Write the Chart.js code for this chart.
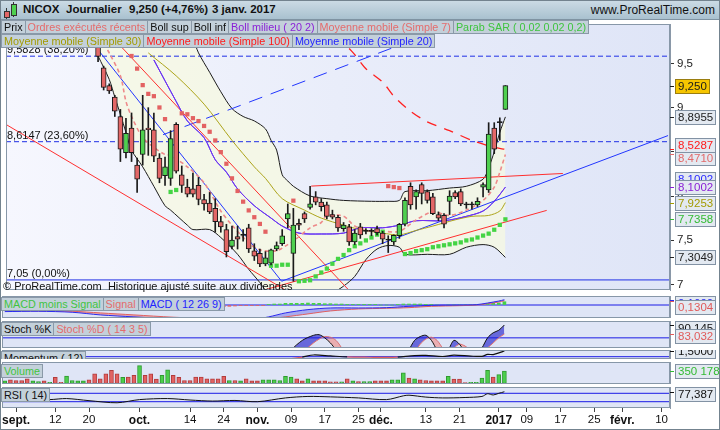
<!DOCTYPE html>
<html lang="fr">
<head>
<meta charset="utf-8">
<title>NICOX – Journalier</title>
<script src="https://cdn.jsdelivr.net/npm/chart.js@4.4.1/dist/chart.umd.min.js"></script>
<style>
  html,body{margin:0;padding:0;}
  body{width:720px;height:430px;position:relative;overflow:hidden;background:#fff;font-family:"Liberation Sans",Arial,sans-serif;}
  canvas.pane{position:absolute;left:2px;}
  .frame{position:absolute;left:0;top:0;width:718px;height:428px;border:1px solid #73838f;pointer-events:none;z-index:9}
  .titlebar{position:absolute;left:0;top:0;width:720px;height:19px;background:linear-gradient(#cddce6,#a9c1cf);border-bottom:1px solid #7f93a2;z-index:6}
  .titlebar span{position:absolute;top:3px;font-size:11.5px;font-weight:bold;color:#111;white-space:nowrap}
  .titlebar span.site{font-weight:normal;font-size:12px;left:auto;right:5px}
  .ico{position:absolute;border:1px solid #333}
  .ico.w{border:none;background:#333;width:1px}
  .legrow{position:absolute;left:1px;display:flex;z-index:7}
  .legrow span{font-size:10.8px;line-height:12px;height:12px;padding:0 2px;background:#c3d0da;border:1px solid #8a99a8;margin-right:-1px;white-space:nowrap}
  .clip{position:absolute;left:0;overflow:hidden;width:300px;z-index:7}
  .clip .legrow{top:0}
  .note{position:absolute;font-size:11px;color:#111;white-space:nowrap;z-index:5}
</style>
</head>
<body>
<div class="titlebar">
  <div class="ico w" style="left:6px;top:8px;height:11px"></div>
  <div class="ico" style="left:4px;top:11px;width:4px;height:5px;background:#e36767"></div>
  <div class="ico w" style="left:13px;top:2px;height:15px"></div>
  <div class="ico" style="left:11px;top:4px;width:4px;height:10px;background:#4fd04f"></div>
  <span id="tSym" style="left:23px"></span>
  <span id="tFreq" style="left:66px"></span>
  <span id="tLast" style="left:129px"></span>
  <span id="tDate" style="left:212px"></span>
  <span class="site">www.ProRealTime.com</span>
</div>

<canvas id="cMain" class="pane" width="718" height="274" style="top:20px"></canvas>
<canvas id="cMacd" class="pane" width="718" height="22" style="top:296px"></canvas>
<canvas id="cStoch" class="pane" width="718" height="27" style="top:321px"></canvas>
<canvas id="cMom" class="pane" width="718" height="9" style="top:350px"></canvas>
<canvas id="cVol" class="pane" width="718" height="22" style="top:362px"></canvas>
<canvas id="cRsi" class="pane" width="718" height="43" style="top:387px"></canvas>

<div class="legrow" style="top:20px">
  <span style="color:#111">Prix</span><span style="color:#e46c6c">Ordres exécutés récents</span><span style="color:#111">Boll sup</span><span style="color:#111">Boll inf</span><span style="color:#8a1fd6">Boll milieu ( 20 2)</span><span style="color:#e46c6c">Moyenne mobile (Simple 7)</span><span style="color:#3fc43f">Parab SAR ( 0,02 0,02 0,2)</span>
</div>
<div class="legrow" style="top:34px">
  <span style="color:#a39b00">Moyenne mobile (Simple 30)</span><span style="color:#ff1a1a">Moyenne mobile (Simple 100)</span><span style="color:#2323ff">Moyenne mobile (Simple 20)</span>
</div>
<div class="note" style="left:3px;top:280px">© ProRealTime.com&nbsp; Historique ajusté suite aux dividendes</div>

<div class="legrow" style="top:297px">
  <span style="color:#3fc43f">MACD moins Signal</span><span style="color:#e46c6c">Signal</span><span style="color:#2323ff">MACD ( 12 26 9)</span>
</div>
<div class="legrow" style="top:322px">
  <span style="color:#111">Stoch %K</span><span style="color:#e46c6c">Stoch %D ( 14 3 5)</span>
</div>
<div class="clip" style="top:351px;height:8px">
  <div class="legrow"><span style="color:#111">Momentum ( 12)</span></div>
</div>
<div class="legrow" style="top:364px">
  <span style="color:#3fc43f">Volume</span>
</div>
<div class="legrow" style="top:388px">
  <span style="color:#111">RSI ( 14)</span>
</div>
<div class="frame"></div>

<script>
// ---------- trading calendar (Euronext Paris sessions) ----------
const firstSession = '2016-08-30';
const sessionCount = 119;
const closedDays = ['2016-12-26'];

// x-axis marks: session date, label, month flag
const axisMarks = [
  ['2016-09-01', 'sept.', true], ['2016-09-12', '12'], ['2016-09-20', '20'],
  ['2016-10-03', 'oct.', true], ['2016-10-14', '14'], ['2016-10-24', '24'],
  ['2016-11-01', 'nov.', true], ['2016-11-09', '09'], ['2016-11-17', '17'], ['2016-11-25', '25'],
  ['2016-12-01', 'déc.', true], ['2016-12-13', '13'], ['2016-12-21', '21'],
  ['2017-01-02', '2017', true], ['2017-01-09', '09'], ['2017-01-17', '17'], ['2017-01-25', '25'],
  ['2017-02-01', 'févr.', true], ['2017-02-10', '10']
];

// ---------- daily prices, one entry per session ----------
const opens = [10.95,11.05,10.85,10.70,10.55,10.30,10.45,10.55,10.40,10.45,
  10.15,10.10,10.40,10.45,10.50,10.50,9.95,9.45,9.25,9.12,
  8.90,8.49,8.77,8.35,8.47,8.77,8.75,8.43,8.23,8.20,
  8.81,8.24,8.10,8.08,8.12,7.96,7.92,7.86,7.71,7.62,
  7.43,7.54,7.555,7.64,7.38,7.35,7.23,7.24,7.40,7.46,
  7.74,7.35,7.69,7.80,7.87,7.99,7.93,7.90,7.79,7.76,
  7.63,7.65,7.48,7.65,7.60,7.60,7.63,7.58,7.50,7.48,
  7.55,7.68,8.11,7.99,8.13,8.05,7.99,7.79,7.78,7.94,
  8.04,8.05,7.90,7.90,7.90,8.10,8.07,8.77,8.83,8.98];
const highs = [11.10,11.10,10.90,10.75,10.60,10.50,10.60,10.58,10.52,10.48,
  10.20,10.45,10.50,10.55,10.60,10.52,10.00,9.47,9.27,9.14,
  8.98,8.88,8.94,8.43,9.14,9.00,8.94,8.48,8.44,8.74,
  8.83,8.34,8.19,8.26,8.21,8.02,8.04,7.97,7.77,7.68,
  7.66,7.66,7.62,7.68,7.46,7.40,7.37,7.40,7.48,7.62,
  7.91,7.86,7.74,7.82,8.11,8.05,7.97,7.93,7.84,7.78,
  7.70,7.68,7.62,7.69,7.63,7.63,7.66,7.60,7.55,7.56,
  7.69,7.98,8.15,8.07,8.15,8.07,8.03,7.82,7.80,8.06,
  8.06,8.08,7.93,7.93,7.98,8.15,8.83,8.83,8.885,9.25];
const lows = [10.85,10.80,10.60,10.50,10.25,10.25,10.40,10.35,10.35,10.10,
  10.05,10.05,10.30,10.40,10.42,10.10,9.52,9.20,9.16,8.90,
  8.39,8.43,8.39,8.04,8.35,8.46,8.39,8.15,8.12,8.12,
  8.26,8.04,7.99,7.99,7.90,7.84,7.80,7.59,7.59,7.31,
  7.40,7.40,7.49,7.36,7.27,7.20,7.21,7.22,7.38,7.44,
  7.64,7.035,7.62,7.70,7.85,7.90,7.83,7.74,7.74,7.60,
  7.60,7.44,7.45,7.52,7.57,7.55,7.56,7.46,7.36,7.45,
  7.52,7.66,7.85,7.85,7.91,7.92,7.79,7.72,7.64,7.79,
  7.97,7.89,7.86,7.85,7.88,7.99,8.04,8.48,8.63,8.98];
const closes = [11.05,10.85,10.65,10.55,10.30,10.45,10.55,10.40,10.48,10.15,
  10.10,10.40,10.45,10.50,10.55,10.15,9.58,9.23,9.19,8.96,
  8.53,8.71,8.49,8.19,8.75,8.75,8.45,8.20,8.33,8.65,
  8.28,8.12,8.02,8.02,7.96,7.91,7.82,7.71,7.65,7.37,
  7.50,7.51,7.555,7.40,7.32,7.23,7.30,7.39,7.44,7.55,
  7.80,7.67,7.67,7.74,7.91,7.93,7.88,7.77,7.76,7.64,
  7.67,7.48,7.58,7.56,7.60,7.60,7.585,7.51,7.50,7.555,
  7.68,7.95,7.90,8.05,8.03,7.95,7.80,7.75,7.68,8.00,
  7.99,7.91,7.90,7.90,7.94,8.13,8.70,8.53,8.83,9.25];
const volumes = [85000,114000,95000,95000,142000,85000,66000,85000,47000,180000,
  47000,218000,95000,85000,85000,114000,275000,142000,275000,370000,
  275000,180000,190000,237000,503000,237000,275000,133000,237000,389000,
  237000,180000,95000,95000,190000,190000,142000,142000,142000,208000,
  95000,95000,85000,142000,85000,85000,114000,114000,114000,95000,
  208000,190000,142000,85000,142000,85000,85000,85000,57000,57000,
  57000,142000,85000,66000,66000,66000,85000,85000,85000,114000,
  114000,304000,161000,142000,114000,95000,85000,85000,85000,209000,
  133000,133000,38000,47000,47000,161000,370000,190000,256000,350178];

// ---------- price overlays: [session index, value] ----------
const bollUpper = [[16,11.10],[20,10.95],[25,10.55],[30,10.10],[33,9.78],[34,9.62],[36,9.40],[38,9.18],[40,8.99],[42,8.90],[44,8.85],[46,8.76],[47,8.63],[48,8.52],[49,8.24],[50,8.17],[51,8.11],[54,8.00],[57,7.97],[60,7.95],[65,7.94],[68,7.94],[70,7.95],[71,8.05],[75,8.06],[79,8.09],[82,8.11],[85,8.19],[86,8.32],[87,8.50],[88,8.72],[89,8.8955]];
const bollLower = [[16,9.585],[18,9.32],[19,9.12],[20,8.925],[21,8.72],[22,8.52],[24,8.33],[26,8.11],[28,7.89],[29,7.84],[32,7.67],[33,7.62],[36,7.62],[38,7.53],[41,7.34],[43,7.17],[45,7.02],[47,6.85],[50,6.76],[55,6.80],[58,6.90],[60,6.98],[62,7.09],[64,7.28],[66,7.40],[68,7.44],[70,7.42],[71,7.34],[75,7.34],[79,7.34],[82,7.42],[85,7.45],[87,7.42],[89,7.3049]];
const ma20 = [[26,9.54],[30,9.07],[32,8.85],[35,8.66],[37,8.41],[39,8.27],[41,8.08],[44,7.89],[47,7.75],[49,7.66],[52,7.58],[56,7.57],[60,7.58],[63,7.64],[67,7.64],[70,7.67],[73,7.72],[78,7.72],[82,7.77],[85,7.83],[87,7.94],[89,8.1002]];
const ma30 = [[25,9.62],[30,9.36],[35,9.04],[40,8.63],[44,8.33],[46,8.20],[49,7.97],[53,7.84],[56,7.75],[60,7.67],[63,7.62],[67,7.58],[70,7.56],[73,7.61],[76,7.66],[80,7.73],[83,7.77],[86,7.78],[88,7.83],[89,7.9253]];
const ma100 = [[61,9.67],[62,9.60],[64,9.44],[67,9.29],[69,9.13],[72,8.96],[75,8.84],[79,8.74],[83,8.63],[87,8.55],[89,8.5287]];
const ma7 = [[17,9.72],[18,9.62],[20,9.36],[21,9.07],[22,8.90],[24,8.66],[26,8.55],[28,8.47],[29,8.46],[32,8.33],[35,8.15],[38,7.83],[40,7.67],[43,7.47],[45,7.39],[48,7.38],[50,7.45],[51,7.49],[54,7.64],[56,7.70],[57,7.78],[60,7.77],[62,7.66],[65,7.60],[67,7.60],[70,7.60],[73,7.73],[76,7.82],[79,7.78],[82,7.84],[85,7.95],[87,8.10],[88,8.27],[89,8.471]];
const sarAbove = [[22,9.585],[23,9.442],[24,9.255],[25,9.156],[26,9.13],[27,9.002],[28,8.870],[31,8.936],[32,8.925],[33,8.881],[34,8.848],[35,8.793],[36,8.727],[37,8.629],[38,8.497],[39,8.365],[40,8.20],[41,8.057],[42,7.936],[43,7.837],[44,7.760],[45,7.684],[46,7.596],[51,7.947],[68,8.112],[69,8.101],[70,8.090]];
const sarBelow = [[29,8.046],[30,8.068],[47,7.211],[48,7.211],[49,7.222],[50,7.222],[52,7.035],[53,7.040],[54,7.046],[55,7.090],[56,7.134],[57,7.178],[58,7.233],[59,7.288],[60,7.332],[61,7.387],[62,7.431],[63,7.464],[64,7.497],[65,7.530],[66,7.563],[67,7.596],[71,7.343],[72,7.354],[73,7.376],[74,7.387],[75,7.398],[76,7.420],[77,7.431],[78,7.442],[79,7.453],[80,7.464],[81,7.475],[82,7.497],[83,7.508],[84,7.530],[85,7.552],[86,7.574],[87,7.618],[88,7.673],[89,7.7358]];

// hand-drawn lines, anchored at [session index, price]
const redLines = [
  [[-0.5, 8.81], [50, 6.92]],
  [[16, 9.97], [61, 6.93]],
  [[54.2, 8.112], [99.3, 8.255]],
  [[46, 6.94], [96.4, 7.837]]
];
const blueLines = [
  [[12.3, 9.95], [48.9, 7.035]],
  [[48.9, 7.035], [118.15, 8.684]]
];
const blueDashedLines = [
  [[27.65, 8.694], [80.2, 9.95]]
];
// Fibonacci retracement levels and their ratios
const fibLevels = [9.5828, 8.6147, 7.05];
const fibRatios = [38.2, 23.6, 0];

// ---------- lower studies ----------
const macdLine = [[0,-0.20],[6,-0.19],[12,-0.22],[17,-0.30],[23,-0.36],[30,-0.42],[38,-0.45],[44,-0.44],[47,-0.36],[50,-0.24],[54,-0.14],[58,-0.09],[63,-0.09],[68,-0.08],[72,-0.04],[76,-0.01],[81,0.00],[84,0.01],[86,0.06],[88,0.12],[89,0.16]];
const macdSignal = [[0,-0.17],[6,-0.18],[12,-0.19],[17,-0.24],[23,-0.30],[30,-0.37],[38,-0.42],[44,-0.44],[47,-0.42],[50,-0.36],[54,-0.27],[58,-0.18],[63,-0.12],[68,-0.10],[72,-0.08],[76,-0.04],[81,-0.02],[84,0.00],[86,0.04],[88,0.09],[89,0.1304]];
const macdHist = [0.01,0,-0.01,-0.02,-0.03,-0.02,-0.01,-0.01,-0.02,-0.03,
  -0.03,-0.02,-0.02,-0.03,-0.04,-0.05,-0.06,-0.07,-0.07,-0.08,
  -0.09,-0.07,-0.07,-0.07,-0.04,-0.03,-0.03,-0.04,-0.03,-0.01,
  -0.02,-0.03,-0.04,-0.04,-0.04,-0.04,-0.04,-0.04,-0.05,-0.05,
  -0.04,-0.03,-0.02,-0.02,-0.02,-0.02,-0.01,0.01,0.03,0.03,
  0.05,0.05,0.05,0.05,0.06,0.05,0.05,0.04,0.04,0.03,
  0.03,0.02,0.02,0.01,0.01,0.01,0.01,0,0,0,
  0.01,0.03,0.03,0.03,0.03,0.02,0.01,0,-0.01,0,
  0,0,0,0,0.01,0.01,0.04,0.05,0.06,0.10];
const stochK = [[0,60],[5,45],[10,40],[16,10],[22,20],[26,30],[30,30],[35,15],[40,10],[46,20],[49,55],[51,70],[53,78],[55,82],[56,82.5],[57,80],[58,76],[59,70],[60,58],[62,40],[66,35],[70,45],[72,70],[73,78],[74,81],[75,82],[76,78],[77,70],[78,62],[79,70],[80,78],[81,75],[82,68],[83,62],[84,66],[85,72],[86,80],[87,84],[88,86],[89,90.145]];
const stochD = [[0,55],[5,50],[10,45],[16,20],[22,15],[26,25],[30,28],[35,20],[40,15],[46,12],[49,35],[51,55],[53,68],[55,76],[56,79],[57,81],[58,80.5],[59,78],[60,72],[62,55],[66,40],[70,40],[72,58],[73,68],[74,75],[75,79],[76,80.5],[77,78],[78,72],[79,68],[80,72],[81,75],[82,73.5],[83,70],[84,67],[85,68],[86,72],[87,76],[88,80],[89,83.032]];
const momentum = [[0,0.3],[5,-0.4],[10,-0.6],[17,-1.2],[24,-1.6],[30,-1.0],[37,-0.9],[45,-1.4],[50,-0.7],[53,-0.1],[55,0.45],[58,0.2],[61,-0.05],[65,-0.15],[68,-0.2],[70,-0.1],[73,0.3],[75,0.35],[78,0.05],[80,0.4],[83,0.15],[85,0.1],[86,0.6],[87,0.55],[88,1.0],[89,1.5]];
const rsi = [[0,50],[4,42],[8,40],[11,45],[15,35],[20,25],[24,40],[29,45],[33,38],[37,33],[41,36],[45,30],[50,48],[54,55],[58,53],[63,48],[68,40],[71,58],[72,61],[75,52],[78,48],[82,50],[85,55],[86,68],[87,62],[88,70],[89,77.387]];
const rsiBands = [70, 30];

// ---------- helpers ----------
function buildSessions() {
  const out = [];
  const d = new Date(firstSession + 'T12:00:00Z');
  while (out.length < sessionCount) {
    const iso = d.toISOString().slice(0, 10);
    const wd = d.getUTCDay();
    if (wd !== 0 && wd !== 6 && !closedDays.includes(iso)) out.push(iso);
    d.setUTCDate(d.getUTCDate() + 1);
  }
  return out;
}
const sessions = buildSessions();
const monthsFr = ['janv.','févr.','mars','avr.','mai','juin','juil.','août','sept.','oct.','nov.','déc.'];
const frNum = (v, d) => v.toFixed(d).replace('.', ',');
const pts = (arr) => arr.map(([x, y]) => ({ x, y }));
const span = (v) => [{ x: -0.5, y: v }, { x: sessionCount - 0.5, y: v }];
const FONT = '"Liberation Sans", Arial, sans-serif';

Chart.defaults.font.family = FONT;
Chart.defaults.font.size = 11;
Chart.defaults.color = '#222';
Chart.defaults.animation = false;
Chart.defaults.events = [];

// title bar
(function () {
  const n = closes.length;
  const last = closes[n - 1], prev = closes[n - 2];
  const pct = (last / prev - 1) * 100;
  const d = new Date(sessions[n - 1] + 'T12:00:00Z');
  document.getElementById('tSym').textContent = 'NICOX';
  document.getElementById('tFreq').textContent = 'Journalier';
  document.getElementById('tLast').textContent = frNum(last, 3) + ' (' + (pct >= 0 ? '+' : '') + frNum(pct, 2) + '%)';
  document.getElementById('tDate').textContent = d.getUTCDate() + ' ' + monthsFr[d.getUTCMonth()] + ' ' + d.getUTCFullYear();
})();

// ---------- plugins ----------
const paneStyle = {
  id: 'paneStyle',
  beforeDraw(chart, _a, o) {
    const { ctx, chartArea: a } = chart;
    ctx.save();
    let fill = o.fill || '#dfe5f6';
    if (Array.isArray(fill)) {
      const g = ctx.createLinearGradient(a.left, 0, a.right, 0);
      fill.forEach((c, i) => g.addColorStop(i / (fill.length - 1), c));
      fill = g;
    }
    ctx.fillStyle = fill;
    ctx.fillRect(a.left, a.top, a.right - a.left, a.bottom - a.top);
    ctx.restore();
  },
  afterDraw(chart, _a, o) {
    const { ctx, chartArea: a } = chart;
    ctx.save();
    ctx.strokeStyle = o.edge || '#8797a8';
    ctx.lineWidth = 1;
    ctx.strokeRect(a.left + 0.5, a.top + 0.5, a.right - a.left - 1, a.bottom - a.top - 1);
    ctx.restore();
  }
};

// value boxes in the right margin, one for each tagged series
const valueTags = {
  id: 'valueTags',
  afterDraw(chart, _a, o) {
    const { ctx, chartArea: a, scales: { y } } = chart;
    const items = [];
    chart.data.datasets.forEach((ds) => {
      if (!ds.tag) return;
      const last = ds.data[ds.data.length - 1];
      const v = Array.isArray(last.y) ? last.y[1] : last.y;
      const py = y.getPixelForValue(v);
      items.push({ v, py, cy: py + (ds.tag.shift || 0), t: ds.tag });
    });
    const free = items.filter(it => !it.t.shift).sort((p, q) => p.cy - q.cy);
    const gap = o.gap || 13;
    for (let k = 0; k < 8; k++) {
      for (let i = 0; i + 1 < free.length; i++) {
        const d = free[i + 1].cy - free[i].cy;
        if (d < gap) { const m = (gap - d) / 2; free[i].cy -= m; free[i + 1].cy += m; }
      }
    }
    if (o.clamp) items.forEach(it => { it.cy = Math.min(Math.max(it.cy, a.top + 7), a.bottom - 7); });
    const x0 = a.right;
    const order = items.filter(it => it.t.shift)
      .concat(items.filter(it => !it.t.shift).sort((p, q) => (p.t.z || 0) - (q.t.z || 0)));
    ctx.save();
    ctx.font = '11.5px ' + FONT;
    ctx.textBaseline = 'middle';
    order.forEach(it => {
      const text = it.t.format ? it.t.format(it.v) : frNum(it.v, it.t.dec);
      const ty = Math.round(it.py) + 0.5;
      ctx.strokeStyle = it.t.tick || it.t.color;
      ctx.lineWidth = 1;
      ctx.beginPath(); ctx.moveTo(x0, ty); ctx.lineTo(x0 + 4, ty); ctx.stroke();
      const w = Math.round(ctx.measureText(text).width) + 5;
      const top = Math.round(it.cy - 7) + 0.5;
      ctx.fillStyle = it.t.bg || '#e3e9f1';
      ctx.fillRect(x0 + 5.5, top, w, 14);
      ctx.strokeStyle = it.t.edge || '#8292a4';
      ctx.strokeRect(x0 + 5.5, top, w, 14);
      ctx.fillStyle = it.t.color;
      ctx.fillText(text, x0 + 8, top + 7.5);
    });
    ctx.restore();
  }
};

// captions of the retracement levels
const levelNotes = {
  id: 'levelNotes',
  afterDatasetsDraw(chart) {
    const { ctx, chartArea: a, scales: { y } } = chart;
    ctx.save();
    ctx.font = '11px ' + FONT;
    ctx.fillStyle = '#111';
    ctx.textBaseline = 'alphabetic';
    fibLevels.forEach((lv, i) => {
      const txt = String(lv).replace('.', ',') + ' (' + frNum(fibRatios[i], 2) + '%)';
      ctx.fillText(txt, a.left + 1, Math.round(y.getPixelForValue(lv)) - 3);
    });
    ctx.restore();
  }
};

// ---------- shared scales ----------
function xScale(show) {
  return {
    type: 'linear', min: -0.5, max: sessionCount - 0.5, offset: false, display: show,
    grid: { display: show, drawOnChartArea: false, drawTicks: true, tickLength: 4, color: '#444', offset: false },
    border: { display: false },
    afterBuildTicks: (s) => { s.ticks = axisMarks.map(m => ({ value: sessions.indexOf(m[0]), major: !!m[2] })); },
    afterFit: (s) => { if (show) s.height = 22; s.paddingLeft = 0; s.paddingRight = 0; },
    ticks: {
      autoSkip: false, maxRotation: 0, padding: 1, color: '#111',
      callback: (v) => { const m = axisMarks.find(k => sessions.indexOf(k[0]) === v); return m ? m[1] : ''; },
      font: (c) => (c.tick && c.tick.major) ? { size: 12, weight: 'bold' } : { size: 11.5 }
    }
  };
}
function yScale(min, max, ticks) {
  return {
    type: 'linear', position: 'right', min, max,
    afterFit: (s) => { s.width = 50; s.paddingTop = 0; s.paddingBottom = 0; },
    grid: { drawOnChartArea: false, drawTicks: !!ticks, tickLength: 4, color: '#333' },
    border: { display: true, color: '#8a98a8' },
    ticks: ticks || { display: false }
  };
}
function baseOptions(x, y, pluginOpts) {
  return {
    responsive: false, maintainAspectRatio: false, animation: false, devicePixelRatio: 1,
    layout: { padding: 0 },
    scales: { x, y },
    plugins: Object.assign({ legend: { display: false }, tooltip: { enabled: false },
      filler: { drawTime: 'beforeDatasetsDraw' } }, pluginOpts)
  };
}
const line = (data, color, extra) => Object.assign({
  type: 'line', data, borderColor: color, borderWidth: 1, pointRadius: 0, tension: 0.3, fill: false
}, extra || {});

// ---------- price pane ----------
const UP = '#4fd04f', DOWN = '#e36767';
const candleColor = (i) => closes[i] > opens[i] ? UP : (closes[i] < opens[i] ? DOWN : '#111');

const mainSets = [
  { type: 'bar', data: closes.map((c, i) => ({ x: i, y: [opens[i], c] })), grouped: false, barThickness: 5,
    minBarLength: 1, borderWidth: 1, borderColor: '#1a1a1a', borderSkipped: false,
    backgroundColor: (c) => candleColor(c.dataIndex), order: 0,
    tag: { dec: 3, color: '#1a1a1a', bg: '#f6c500', edge: '#9a7d10', z: 9 } },
  { type: 'bar', data: closes.map((c, i) => ({ x: i, y: [lows[i], highs[i]] })), grouped: false, barThickness: 1,
    backgroundColor: '#1a1a1a', borderWidth: 0, order: 1 },
  line(pts(sarAbove), '#e36262', { showLine: false, pointRadius: 3, pointStyle: 'rect', pointBackgroundColor: '#e36262', pointBorderWidth: 0, order: 2 }),
  line(pts(sarBelow), '#44d444', { showLine: false, pointRadius: 3, pointStyle: 'rect', pointBackgroundColor: '#44d444', pointBorderWidth: 0, order: 2,
    tag: { dec: 4, color: '#33bb33' } }),
  line(pts(ma7), '#ee8a8a', { borderWidth: 1.6, borderDash: [4, 3], order: 3, tag: { dec: 4, color: '#e26a6a' } }),
  line(pts(ma20), '#7a2ff0', { order: 3, tag: { dec: 4, color: '#8a1fd6' } }),
  line(pts(ma20), '#2a2aff', { order: 4, tag: { dec: 4, color: '#2a2aff', shift: -8 } }),
  line(pts(ma30), '#ada41a', { order: 3, tag: { dec: 4, color: '#a39b00' } }),
  line(pts(ma100), '#ff2020', { borderWidth: 1.3, borderDash: [10, 8], order: 3, tag: { dec: 4, color: '#ff1a1a' } })
];
redLines.forEach(l => mainSets.push(line(pts(l), '#ff2f2f', { tension: 0, order: 5 })));
blueLines.forEach(l => mainSets.push(line(pts(l), '#2236ff', { tension: 0, order: 5 })));
blueDashedLines.forEach(l => mainSets.push(line(pts(l), '#2236ff', { tension: 0, borderDash: [14, 9], order: 5 })));
mainSets.push(line(pts(bollUpper), '#1c1c1c', { order: 6, fill: '+1', backgroundColor: 'rgba(246,248,226,0.78)',
  tag: { dec: 4, color: '#222' } }));
mainSets.push(line(pts(bollLower), '#1c1c1c', { order: 6, tag: { dec: 4, color: '#222' } }));
fibLevels.forEach((lv, i) => mainSets.push(line(span(lv), '#1f2fe6', { tension: 0, order: 7,
  borderDash: fibRatios[i] === 0 ? [] : [5, 3] })));

new Chart(document.getElementById('cMain'), {
  type: 'line',
  data: { datasets: mainSets },
  options: baseOptions(xScale(false),
    yScale(6.936, 9.947, {
      stepSize: 0.5, includeBounds: false, padding: 3, color: '#222', font: { size: 11.5 },
      callback: (v) => String(v).replace('.', ',')
    }),
    { paneStyle: { fill: ['#f6f7fe', '#e9edfa', '#dfe5f7'] }, valueTags: { gap: 13 } }),
  plugins: [paneStyle, valueTags, levelNotes]
});

// ---------- MACD ----------
new Chart(document.getElementById('cMacd'), {
  type: 'line',
  data: { datasets: [
    line(span(0), '#1a1ae6', { tension: 0, order: 4 }),
    { type: 'bar', data: macdHist.map((v, i) => ({ x: i, y: v })), grouped: false, barThickness: 3,
      backgroundColor: macdHist.map(v => v >= 0 ? '#44d444' : '#e36262'), order: 3 },
    line(pts(macdLine), '#2a2af0', { order: 1, tag: { dec: 4, color: '#2a2af0' } }),
    line(pts(macdSignal), '#e06060', { order: 2, fill: { target: '-1', above: 'rgba(232,120,120,0.55)', below: 'rgba(100,100,230,0.45)' },
      tag: { dec: 4, color: '#e05a5a', z: 2 } })
  ] },
  options: baseOptions(xScale(false), yScale(-0.394, 0.273), { paneStyle: {}, valueTags: { gap: 13, clamp: true } }),
  plugins: [paneStyle, valueTags]
});

// ---------- Stochastic ----------
new Chart(document.getElementById('cStoch'), {
  type: 'line',
  data: { datasets: [
    line(span(80), '#1a1ae6', { tension: 0, order: 4 }),
    line(pts(stochK), '#111', { order: 1, fill: { target: '+1', above: 'rgba(84,84,214,0.85)', below: 'rgba(236,160,160,0.8)' },
      tag: { dec: 3, color: '#111' } }),
    line(pts(stochD), '#e27070', { order: 2, tag: { dec: 3, color: '#e05a5a', z: 2 } })
  ] },
  options: baseOptions(xScale(false), yScale(72, 93.3), { paneStyle: {}, valueTags: { gap: 13, clamp: true } }),
  plugins: [paneStyle, valueTags]
});

// ---------- Momentum ----------
new Chart(document.getElementById('cMom'), {
  type: 'line',
  data: { datasets: [
    line(span(0), '#1a1ae6', { tension: 0, order: 2 }),
    line(pts(momentum), '#111', { order: 1, borderWidth: 1.2,
      segment: { borderColor: (c) => (c.p0.parsed.y < 0 && c.p1.parsed.y < 0) ? '#e06060' : '#111' },
      tag: { dec: 4, color: '#111' } })
  ] },
  options: baseOptions(xScale(false), yScale(-0.605, 1.76), { paneStyle: {}, valueTags: {} }),
  plugins: [paneStyle, valueTags]
});

// ---------- Volume ----------
const volUp = (i) => closes[i] > opens[i] || (closes[i] === opens[i] && (i === 0 || closes[i] >= closes[i - 1]));
new Chart(document.getElementById('cVol'), {
  type: 'line',
  data: { datasets: [
    { type: 'bar', data: volumes.map((v, i) => ({ x: i, y: v })), grouped: false, barThickness: 4, borderWidth: 1,
      borderSkipped: false,
      backgroundColor: volumes.map((v, i) => volUp(i) ? '#4ccf4c' : '#e26262'),
      borderColor: volumes.map((v, i) => volUp(i) ? '#2f9a2f' : '#b23c3c'),
      tag: { color: '#33bb33', format: (v) => String(Math.round(v)).replace(/\B(?=(\d{3})+(?!\d))/g, ' ') } }
  ] },
  options: baseOptions(xScale(false), yScale(0, 600000), { paneStyle: {}, valueTags: {} }),
  plugins: [paneStyle, valueTags]
});

// ---------- RSI ----------
new Chart(document.getElementById('cRsi'), {
  type: 'line',
  data: { datasets: rsiBands.map(b => line(span(b), '#1a1ae6', { tension: 0, order: 2 })).concat([
    line(pts(rsi), '#111', { order: 1, tag: { dec: 3, color: '#111' } })
  ]) },
  options: baseOptions(xScale(true), yScale(0, 100), { paneStyle: {}, valueTags: { clamp: true } }),
  plugins: [paneStyle, valueTags]
});
</script>
</body>
</html>
